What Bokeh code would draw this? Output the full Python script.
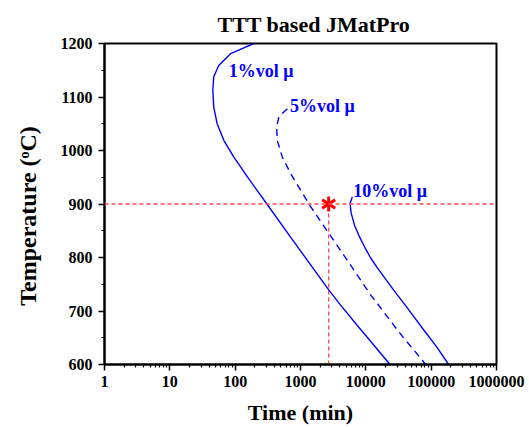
import math
from bokeh.plotting import figure
from bokeh.models import FixedTicker, PrintfTickFormatter, Span, Range1d
from bokeh.embed import file_html
from bokeh.resources import INLINE
from bokeh.core.properties import value

# ---- data ----
vol1_time = [193, 85, 56, 47, 45.5, 47, 53, 67, 95, 153, 306, 705, 2723, 4110, 7410, 13300, 23400]
vol1_temp = [1200, 1181, 1159, 1138, 1113, 1081, 1050, 1019, 988, 951, 900, 838, 739, 711, 673, 636, 600]

vol5_time = [628, 467, 431, 441, 526, 705, 1004, 1430, 2723, 4620, 7410, 11850, 15000, 26900, 38300, 54500, 82400]
vol5_temp = [1078, 1063, 1044, 1019, 988, 957, 926, 895, 845, 804, 767, 730, 714, 673, 649, 627, 600]

vol10_time = [6210, 5740, 5960, 6730, 7900, 9550, 11750, 15100, 19950, 26700, 43700, 77600, 123000, 185000]
vol10_temp = [913, 901, 883, 860, 840, 820, 800, 780, 760, 739, 705, 664, 632, 600]

ref_time = 2700
ref_temp = 900

labels = ["1%vol \u03bc", "5%vol \u03bc", "10%vol \u03bc"]
label_time = [80, 688, 6440]
label_temp = [1148, 1083, 924]

y_ticks = [600, 700, 800, 900, 1000, 1100, 1200]
y_minor = [650, 750, 850, 950, 1050, 1150]
x_ticks = [1, 10, 100, 1000, 10000, 100000, 1000000]
x_minor = [m * 10 ** k for k in range(6) for m in range(2, 10)]

FONT = value("Liberation Serif")
BLUE = "#0000ff"
RED = "#ff4545"

p = figure(width=529, height=427, x_axis_type="log", output_backend="svg",
           toolbar_location=None, x_range=Range1d(1, 1000000), y_range=Range1d(600, 1200),
           min_border_left=104, min_border_right=33, min_border_top=43, min_border_bottom=63)

p.background_fill_color = "white"
p.border_fill_color = "white"
p.outline_line_color = "black"
p.outline_line_width = 2
p.grid.visible = False

p.title.text = "TTT based JMatPro"
p.title.text_font = "Liberation Serif"
p.title.text_font_size = "22px"
p.title.text_font_style = "bold"
p.title.text_color = "black"
p.title.align = "left"
p.title.offset = 113
p.title.standoff = 14

for ax in (p.xaxis[0], p.yaxis[0]):
    ax.axis_line_width = 2
    ax.axis_line_color = "black"
    ax.major_tick_line_color = "black"
    ax.minor_tick_line_color = "black"
    ax.major_tick_line_width = 1.5
    ax.minor_tick_line_width = 1.2
    ax.major_tick_out = 6
    ax.major_tick_in = 0
    ax.minor_tick_out = 3
    ax.minor_tick_in = 0
    ax.major_label_text_font = "Liberation Serif"
    ax.major_label_text_font_style = "bold"
    ax.major_label_text_font_size = "16px"
    ax.major_label_text_color = "black"
    ax.axis_label_text_font = "Liberation Serif"
    ax.axis_label_text_font_style = "bold"
    ax.axis_label_text_color = "black"

p.xaxis.ticker = FixedTicker(ticks=x_ticks, minor_ticks=x_minor)
p.xaxis.formatter = PrintfTickFormatter(format="%d")
p.xaxis.axis_label = "Time (min)"
p.xaxis.axis_label_text_font_size = "22px"
p.xaxis.major_label_standoff = 5
p.xaxis.axis_label_standoff = 10

p.yaxis.ticker = FixedTicker(ticks=y_ticks, minor_ticks=y_minor)
p.yaxis.axis_label = "Temperature (\u1d52C)\u00a0\u00a0\u00a0\u00a0"
p.yaxis.axis_label_text_font_size = "24px"
p.yaxis.major_label_standoff = 6
p.yaxis.axis_label_standoff = 17

# reference lines
p.add_layout(Span(location=ref_temp, dimension="width", line_color=RED,
                  line_width=1.3, line_dash="4 3"))
p.segment(x0=[ref_time], y0=[600], x1=[ref_time], y1=[ref_temp],
          line_color=RED, line_width=1.3, line_dash="4 3")

# curves
p.line(vol1_time, vol1_temp, line_color=BLUE, line_width=1.4)
p.line(vol5_time, vol5_temp, line_color=BLUE, line_width=1.4, line_dash="7 5")
p.line(vol10_time, vol10_temp, line_color=BLUE, line_width=1.4)

# six-armed asterisk marker
p.scatter([ref_time], [ref_temp], marker="y", size=15, line_color="red", line_width=3, angle=0)
p.scatter([ref_time], [ref_temp], marker="y", size=15, line_color="red", line_width=3, angle=math.pi)

p.text(x=label_time, y=label_temp, text=labels, text_font=FONT, text_font_style="bold",
       text_font_size="18px", text_color=BLUE, text_baseline="alphabetic", text_align="left")

open("out.html", "w").write(file_html(p, INLINE))
